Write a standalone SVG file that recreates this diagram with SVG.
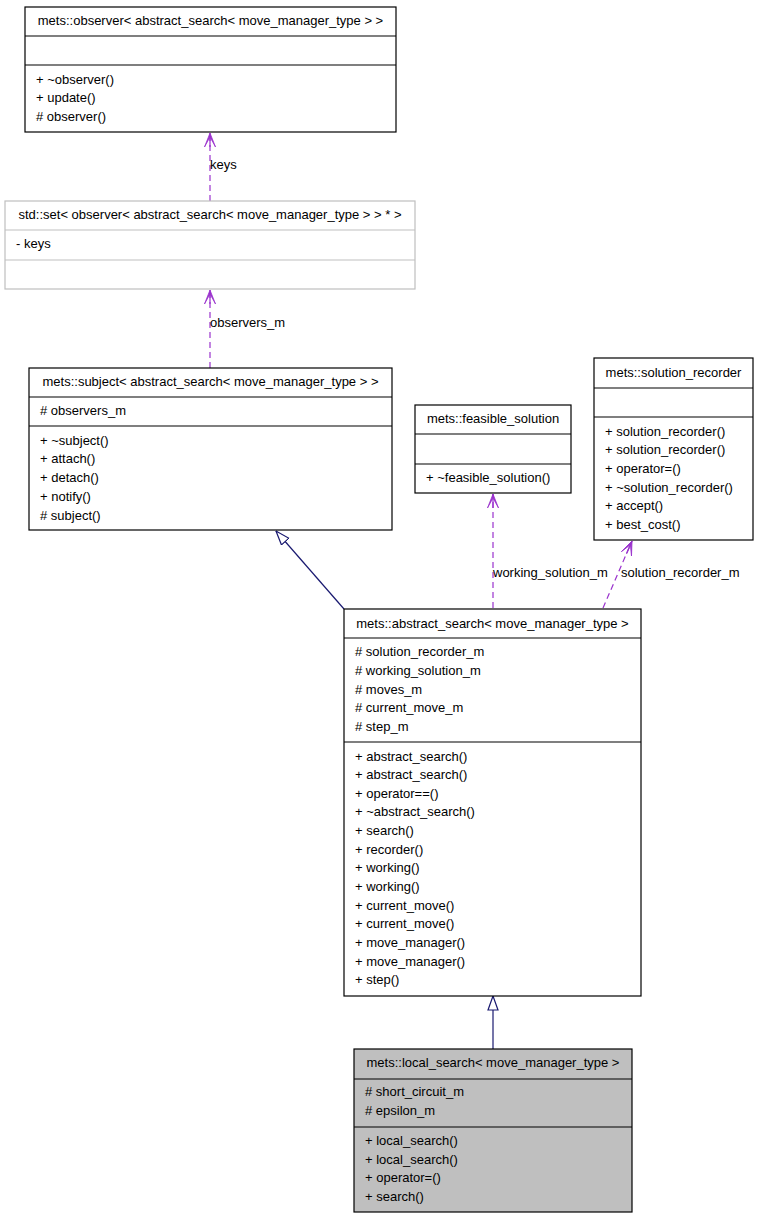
<svg xmlns="http://www.w3.org/2000/svg" width="757" height="1219" viewBox="0 0 757 1219">
<style>
text{font-family:"Liberation Sans",Arial,sans-serif;font-size:13px;fill:#000}
.t{text-anchor:middle}
.b{fill:#fff;stroke:#000;stroke-width:1.2}
.g{fill:#fff;stroke:#bfbfbf;stroke-width:1.2}
.s{fill:#bfbfbf;stroke:#000;stroke-width:1.2}
.l{stroke:#000;stroke-width:1.2}
.lg{stroke:#bfbfbf;stroke-width:1.2}
.u{fill:none;stroke:#9a32cd;stroke-width:1.2;stroke-dasharray:6,4}
.i{fill:none;stroke:#191970;stroke-width:1.2}
</style>
<defs>
<marker id="vee" viewBox="0 0 14 12" refX="14" refY="6" markerWidth="14" markerHeight="12" markerUnits="userSpaceOnUse" orient="auto">
<path d="M0,0.5 L14,6 L0,11.5 L10,6 Z" fill="#9a32cd" stroke="#9a32cd" stroke-width="0.8" stroke-linejoin="miter"/>
<path d="M14,6 L0,6" fill="none" stroke="#9a32cd" stroke-width="1.2"/>
</marker>
<marker id="tri" viewBox="0 0 15 12" refX="14.5" refY="6" markerWidth="15" markerHeight="12" markerUnits="userSpaceOnUse" orient="auto">
<path d="M0.5,1 L14.5,6 L0.5,11 Z" fill="#fff" stroke="#191970" stroke-width="1.2"/>
</marker>
</defs>
<g id="connectors">
<path class="u" d="M210,201 L210,133" marker-end="url(#vee)"/>
<text x="210" y="169">keys</text>
<path class="u" d="M210,368 L210,290" marker-end="url(#vee)"/>
<text x="210" y="327">observers_m</text>
<path class="u" d="M493,608 L493,494" marker-end="url(#vee)"/>
<text x="493" y="577">working_solution_m</text>
<path class="u" d="M603,608 L632,541" marker-end="url(#vee)"/>
<text x="621" y="577">solution_recorder_m</text>
<path class="i" d="M344,609 L276,531" marker-end="url(#tri)"/>
<path class="i" d="M493,1049 L493,996" marker-end="url(#tri)"/>
</g>
<g id="observer">
<rect class="b" x="25" y="7" width="371" height="125"/>
<line class="l" x1="25" y1="36" x2="396" y2="36"/>
<line class="l" x1="25" y1="65" x2="396" y2="65"/>
<text class="t" x="210.5" y="25">mets::observer&lt; abstract_search&lt; move_manager_type &gt; &gt;</text>
<text x="36" y="84">+ ~observer()</text>
<text x="36" y="102">+ update()</text>
<text x="36" y="121"># observer()</text>
</g>
<g id="set">
<rect class="g" x="5" y="201" width="410" height="88"/>
<line class="lg" x1="5" y1="230" x2="415" y2="230"/>
<line class="lg" x1="5" y1="260" x2="415" y2="260"/>
<text class="t" x="210" y="219">std::set&lt; observer&lt; abstract_search&lt; move_manager_type &gt; &gt; * &gt;</text>
<text x="16" y="248">- keys</text>
</g>
<g id="subject">
<rect class="b" x="29" y="368" width="363" height="162"/>
<line class="l" x1="29" y1="397" x2="392" y2="397"/>
<line class="l" x1="29" y1="426" x2="392" y2="426"/>
<text class="t" x="210.5" y="386">mets::subject&lt; abstract_search&lt; move_manager_type &gt; &gt;</text>
<text x="40" y="415"># observers_m</text>
<text x="40" y="445">+ ~subject()</text>
<text x="40" y="463">+ attach()</text>
<text x="40" y="482">+ detach()</text>
<text x="40" y="501">+ notify()</text>
<text x="40" y="520"># subject()</text>
</g>
<g id="feasible_solution">
<rect class="b" x="415" y="405" width="156" height="88"/>
<line class="l" x1="415" y1="434" x2="571" y2="434"/>
<line class="l" x1="415" y1="464" x2="571" y2="464"/>
<text class="t" x="493" y="423">mets::feasible_solution</text>
<text x="426" y="482">+ ~feasible_solution()</text>
</g>
<g id="solution_recorder">
<rect class="b" x="594" y="358" width="159" height="182"/>
<line class="l" x1="594" y1="388" x2="753" y2="388"/>
<line class="l" x1="594" y1="417" x2="753" y2="417"/>
<text class="t" x="673.5" y="377">mets::solution_recorder</text>
<text x="605" y="436">+ solution_recorder()</text>
<text x="605" y="454">+ solution_recorder()</text>
<text x="605" y="473">+ operator=()</text>
<text x="605" y="492">+ ~solution_recorder()</text>
<text x="605" y="510">+ accept()</text>
<text x="605" y="529">+ best_cost()</text>
</g>
<g id="abstract_search">
<rect class="b" x="344" y="609" width="297" height="387"/>
<line class="l" x1="344" y1="638" x2="641" y2="638"/>
<line class="l" x1="344" y1="742" x2="641" y2="742"/>
<text class="t" x="492.5" y="628">mets::abstract_search&lt; move_manager_type &gt;</text>
<text x="355" y="656"># solution_recorder_m</text>
<text x="355" y="675"># working_solution_m</text>
<text x="355" y="694"># moves_m</text>
<text x="355" y="712"># current_move_m</text>
<text x="355" y="731"># step_m</text>
<text x="355" y="761">+ abstract_search()</text>
<text x="355" y="779">+ abstract_search()</text>
<text x="355" y="798">+ operator==()</text>
<text x="355" y="816">+ ~abstract_search()</text>
<text x="355" y="835">+ search()</text>
<text x="355" y="854">+ recorder()</text>
<text x="355" y="872">+ working()</text>
<text x="355" y="891">+ working()</text>
<text x="355" y="910">+ current_move()</text>
<text x="355" y="928">+ current_move()</text>
<text x="355" y="947">+ move_manager()</text>
<text x="355" y="966">+ move_manager()</text>
<text x="355" y="984">+ step()</text>
</g>
<g id="local_search">
<rect class="s" x="354" y="1049" width="278" height="163"/>
<line class="l" x1="354" y1="1079" x2="632" y2="1079"/>
<line class="l" x1="354" y1="1127" x2="632" y2="1127"/>
<text class="t" x="493" y="1067">mets::local_search&lt; move_manager_type &gt;</text>
<text x="365" y="1096"># short_circuit_m</text>
<text x="365" y="1115"># epsilon_m</text>
<text x="365" y="1145">+ local_search()</text>
<text x="365" y="1164">+ local_search()</text>
<text x="365" y="1182">+ operator=()</text>
<text x="365" y="1201">+ search()</text>
</g>
</svg>
